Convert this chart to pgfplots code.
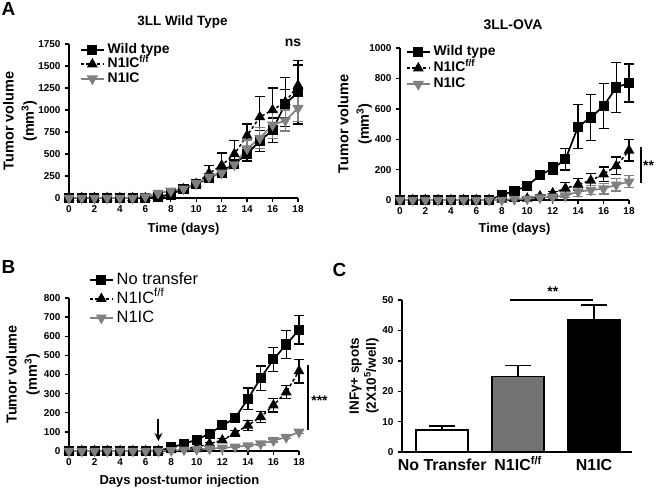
\documentclass[border=0pt]{standalone}
\usepackage{fontspec}
\setmainfont{Liberation Sans}
\usepackage{pgfplots}
\pgfplotsset{compat=1.18}
\usepackage{pgfplotstable}
\usetikzlibrary{arrows.meta}

\definecolor{gp}{RGB}{128,128,128}
\definecolor{gbar}{RGB}{115,115,115}
\newcommand{\fs}[2]{\fontsize{#1}{#2}\selectfont}

\pgfplotstableread{
d wt wte ff ffe n1 n1e
0 0 0 0 0 0 0
1 0 0 0 0 0 0
2 0 0 0 0 0 0
3 0 0 0 0 0 0
4 0 0 0 0 0 0
5 0 0 0 0 0 0
6 0 0 0 0 15 5
7 15 8 15 8 55 10
8 40 12 40 12 80 12
9 105 15 100 20 105 15
10 160 40 160 30 165 25
11 225 40 280 90 240 30
12 300 50 370 140 285 40
13 390 50 500 150 380 40
14 500 80 710 130 560 100
15 650 120 920 230 680 120
16 770 140 1000 250 830 150
17 1070 160 1090 280 880 120
18 1200 360 1280 230 1020 150
}\dataA

\pgfplotstableread{
d wt wte ff ffe n1 n1e
0 0 0 0 0 0 0
1 0 0 0 0 0 0
2 0 0 0 0 0 0
3 0 0 0 0 0 0
4 0 0 0 0 0 0
5 0 0 0 0 0 0
6 0 0 0 0 0 0
7 0 0 0 0 0 0
8 33 5 3 2 0 0
9 59 8 8 4 5 3
10 93 10 10 5 8 4
11 163 15 25 8 15 5
12 207 40 45 10 20 6
13 267 70 76 38 28 10
14 483 145 102 40 55 30
15 543 150 128 45 65 30
16 618 148 170 47 75 35
17 740 165 224 58 100 40
18 770 125 326 70 120 40
}\dataOVA

\pgfplotstableread{
d wt wte ff ffe n1 n1e
0 0 0 0 0 0 0
1 0 0 0 0 0 0
2 0 0 0 0 0 0
3 0 0 0 0 0 0
4 0 0 0 0 0 0
5 0 0 0 0 0 0
6 0 0 0 0 0 0
7 0 0 0 0 0 0
8 19 5 5 3 3 2
9 38 6 10 4 6 3
10 59 8 20 5 9 3
11 91 10 38 8 12 4
12 134 12 56 10 16 4
13 172 23 94 15 22 5
14 273 57 134 25 28 6
15 381 63 178 30 38 6
16 479 64 239 35 55 8
17 557 74 308 35 72 8
18 634 75 418 62 100 10
}\dataB

\pgfplotsset{
  gpaxis/.style={
    scale only axis, clip=false,
    axis x line*=bottom, axis y line*=left,
    axis line style={line width=1.6bp, -},
    tick align=outside, major tick length=4bp,
    every tick/.style={line width=1.4bp, black},
    tick label style={font=\bfseries\fs{10}{12}},
    yticklabel style={xshift=-1bp},
    /pgf/number format/assume math mode=true,
    /pgf/number format/1000 sep={},
    xlabel style={font=\bfseries\fs{13}{15}},
    ylabel style={font=\bfseries\fs{14.5}{20.5}, align=center},
    legend cell align=left,
    legend image code/.code={\draw[mark repeat=2,mark phase=2,##1] plot coordinates {(0bp,0bp) (11.5bp,0bp) (23bp,0bp)};},
  },
  timeaxis/.style={gpaxis, xmin=0, xmax=18, ymin=0, xtick={0,2,...,18}},
  sWT/.style={black, line width=1.7bp, mark=square*, mark size=4.2bp, mark options={solid},
    error bars/.cd, y dir=both, y explicit, error bar style={line width=1.3bp, solid},
    error mark options={rotate=90, mark size=5bp, line width=1.3bp, solid}},
  sFF/.style={black, line width=1.5bp, dash pattern=on 3bp off 2.5bp, mark=triangle*, mark size=4.8bp, mark options={solid},
    error bars/.cd, y dir=both, y explicit, error bar style={line width=1.3bp, solid},
    error mark options={rotate=90, mark size=5bp, line width=1.3bp, solid}},
  sN1/.style={gp, line width=1.7bp, mark=triangle*, mark size=4.8bp, mark options={solid, rotate=180},
    error bars/.cd, y dir=both, y explicit, error bar style={line width=1.3bp, solid},
    error mark options={rotate=90, mark size=5bp, line width=1.3bp, solid}},
}

\begin{document}
\begin{tikzpicture}
\path[use as bounding box] (0,0) rectangle (658bp,-490bp);

\node[font=\bfseries\fs{19}{20}] at (8.5bp,-9bp) {A};
\node[font=\bfseries\fs{19}{20}] at (8.5bp,-266.5bp) {B};
\node[font=\bfseries\fs{19}{20}] at (339.5bp,-270bp) {C};
\node[font=\bfseries\fs{13.5}{15}] at (182.5bp,-22bp) {3LL Wild Type};
\node[font=\bfseries\fs{14}{15}] at (513bp,-25bp) {3LL-OVA};

% ---------- A left ----------
\begin{axis}[timeaxis, at={(69bp,-198bp)}, anchor=south west, width=229bp, height=154bp,
  ymax=1750, ytick={0,250,...,1750},
  xlabel={Time (days)}, ylabel={Tumor volume\\(mm\textsuperscript{3})},
  xlabel style={at={(axis description cs:0.5,-0.2)}, anchor=center},
  ylabel style={at={(axis description cs:-0.214,0.5)}, anchor=center},
  legend style={draw=none, fill=none, at={(axis description cs:0.048,1.01)}, anchor=north west,
    font=\bfseries\fs{14}{16}, inner sep=0pt, outer sep=0pt, row sep=0bp, column sep=2bp,
    nodes={text height=10bp, text depth=2.5bp, inner sep=1bp}},
]
\addplot[sWT] table[x=d, y=wt, y error=wte] {\dataA};
\addlegendentry{Wild type}
\addplot[sFF] table[x=d, y=ff, y error=ffe] {\dataA};
\addlegendentry{N1IC\textsuperscript{f/f}}
\addplot[sN1] table[x=d, y=n1, y error=n1e] {\dataA};
\addlegendentry{N1IC}
\node[font=\bfseries\fs{14}{16}, inner sep=0pt] at (axis description cs:0.978,1.006) {ns};
\end{axis}

% ---------- A right ----------
\begin{axis}[timeaxis, at={(400bp,-200bp)}, anchor=south west, width=229bp, height=152bp,
  ymax=1000, ytick={0,200,...,1000},
  xlabel={Time (days)}, ylabel={Tumor volume\\(mm\textsuperscript{3})},
  xlabel style={at={(axis description cs:0.5,-0.19)}, anchor=center},
  ylabel style={at={(axis description cs:-0.197,0.5)}, anchor=center},
  legend style={draw=none, fill=none, at={(axis description cs:0.026,1.02)}, anchor=north west,
    font=\bfseries\fs{14}{16}, inner sep=0pt, outer sep=0pt, row sep=1.5bp, column sep=2bp,
    nodes={text height=10bp, text depth=2.5bp, inner sep=1bp}},
]
\addplot[sWT] table[x=d, y=wt, y error=wte] {\dataOVA};
\addlegendentry{Wild type}
\addplot[sFF] table[x=d, y=ff, y error=ffe] {\dataOVA};
\addlegendentry{N1IC\textsuperscript{f/f}}
\addplot[sN1] table[x=d, y=n1, y error=n1e] {\dataOVA};
\addlegendentry{N1IC}
\draw[line width=1.6bp] (axis cs:18.94,349) -- (axis cs:18.94,112);
\node[font=\bfseries\fs{14}{16}, inner sep=0pt, anchor=west] at (axis cs:19.1,224) {**};
\end{axis}

% ---------- B ----------
\begin{axis}[timeaxis, at={(69bp,-451bp)}, anchor=south west, width=230bp, height=153bp,
  ymax=800, ytick={0,100,...,800},
  xlabel={Days post-tumor injection}, ylabel={Tumor volume\\(mm\textsuperscript{3})},
  xlabel style={at={(axis description cs:0.48,-0.2)}, anchor=center},
  ylabel style={at={(axis description cs:-0.2,0.5)}, anchor=center},
  legend style={draw=none, fill=none, at={(axis description cs:0.087,1.176)}, anchor=north west,
    font=\fs{16.5}{18}, inner sep=0pt, outer sep=0pt, row sep=1.5bp, column sep=2bp,
    nodes={text height=12bp, text depth=3.5bp, inner sep=1bp}},
]
\addplot[sWT] table[x=d, y=wt, y error=wte] {\dataB};
\addlegendentry{No transfer}
\addplot[sFF] table[x=d, y=ff, y error=ffe] {\dataB};
\addlegendentry{N1IC\textsuperscript{f/f}}
\addplot[sN1] table[x=d, y=n1, y error=n1e] {\dataB};
\addlegendentry{N1IC}
\draw[-{Stealth[length=8bp,width=8bp]}, line width=2bp] (axis cs:7,168) -- (axis cs:7,52);
\draw[line width=1.6bp] (axis cs:18.7,450) -- (axis cs:18.7,110);
\node[font=\bfseries\fs{14}{16}, inner sep=0pt, anchor=west] at (axis cs:18.95,261) {***};
\end{axis}

% ---------- C ----------
\begin{axis}[gpaxis, at={(402bp,-452bp)}, anchor=south west, width=230bp, height=152bp,
  xmin=-0.53, xmax=2.5, ymin=0, ymax=50, ytick={0,10,...,50},
  xtick={0,1,2}, xticklabels={No Transfer, N1IC\textsuperscript{f/f}, N1IC},
  x tick style={draw=none},
  xticklabel style={font=\bfseries\fs{16}{18}, text height=12bp, text depth=3bp, yshift=1bp},
  ylabel={INFγ+ spots\\(2X10\textsuperscript{5}/well)},
  ylabel style={font=\bfseries\fs{13.5}{17}, at={(axis description cs:-0.165,0.5)}, anchor=center},
]
\addplot[ybar, bar width=52bp, bar shift=0pt, fill=white, draw=black, line width=1.5bp,
  error bars/.cd, y dir=plus, y explicit, error bar style={line width=1.5bp},
  error mark options={rotate=90, mark size=13bp, line width=1.5bp}]
  coordinates {(0,7.2) +- (0,1.4)};
\addplot[ybar, bar width=52bp, bar shift=0pt, fill=gbar, draw=black, line width=1.5bp,
  error bars/.cd, y dir=plus, y explicit, error bar style={line width=1.5bp},
  error mark options={rotate=90, mark size=13bp, line width=1.5bp}]
  coordinates {(1,24.8) +- (0,3.6)};
\addplot[ybar, bar width=52bp, bar shift=0pt, fill=black, draw=black, line width=1.5bp,
  error bars/.cd, y dir=plus, y explicit, error bar style={line width=1.5bp},
  error mark options={rotate=90, mark size=13bp, line width=1.5bp}]
  coordinates {(2,43.4) +- (0,4.9)};
\draw[line width=2bp] (axis cs:0.89,50) -- (axis cs:1.98,50);
\node[font=\bfseries\fs{14}{16}, inner sep=0pt] at (axis cs:1.457,52.6) {**};
\end{axis}
\end{tikzpicture}
\end{document}
